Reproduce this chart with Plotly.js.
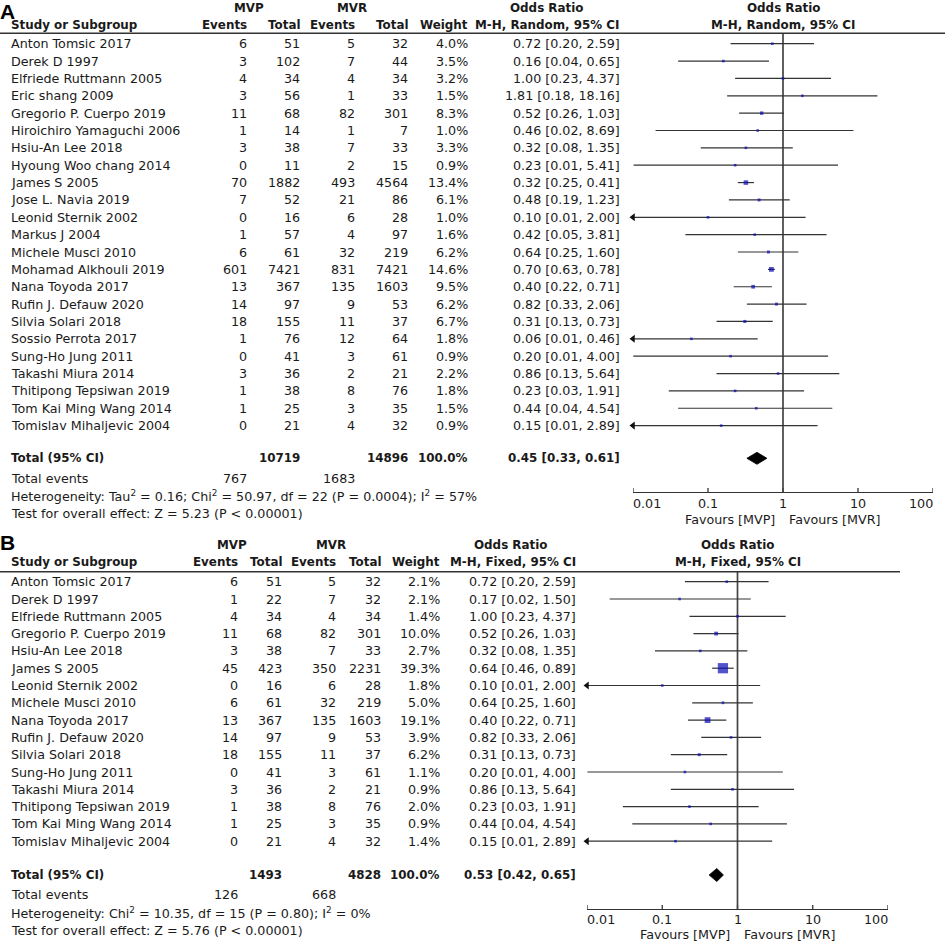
<!DOCTYPE html>
<html><head><meta charset="utf-8">
<script src="https://cdn.plot.ly/plotly-3.0.1.min.js"></script>
<style>html,body{margin:0;padding:0;background:#fff;}#chart{width:945px;height:942px;}</style>
</head><body><div id="chart"></div>
<script>
// ================= DATA: Panel A (M-H, Random) =================
const studiesA = ['Anton Tomsic 2017','Derek D 1997','Elfriede Ruttmann 2005','Eric shang 2009','Gregorio P. Cuerpo 2019','Hiroichiro Yamaguchi 2006','Hsiu-An Lee 2018','Hyoung Woo chang 2014','James S 2005','Jose L. Navia 2019','Leonid Sternik 2002','Markus J 2004','Michele Musci 2010','Mohamad Alkhouli 2019','Nana Toyoda 2017','Rufin J. Defauw 2020','Silvia Solari 2018','Sossio Perrota 2017','Sung-Ho Jung 2011','Takashi Miura 2014','Thitipong Tepsiwan 2019','Tom Kai Ming Wang 2014','Tomislav Mihaljevic 2004'];
const mvpEventsA = [6,3,4,3,11,1,3,0,70,7,0,1,6,601,13,14,18,1,0,3,1,1,0];
const mvpTotalA  = [51,102,34,56,68,14,38,11,1882,52,16,57,61,7421,367,97,155,76,41,36,38,25,21];
const mvrEventsA = [5,7,4,1,82,1,7,2,493,21,6,4,32,831,135,9,11,12,3,2,8,3,4];
const mvrTotalA  = [32,44,34,33,301,7,33,15,4564,86,28,97,219,7421,1603,53,37,64,61,21,76,35,32];
const weightA    = [4.0,3.5,3.2,1.5,8.3,1.0,3.3,0.9,13.4,6.1,1.0,1.6,6.2,14.6,9.5,6.2,6.7,1.8,0.9,2.2,1.8,1.5,0.9];
const orA        = [0.72,0.16,1.00,1.81,0.52,0.46,0.32,0.23,0.32,0.48,0.10,0.42,0.64,0.70,0.40,0.82,0.31,0.06,0.20,0.86,0.23,0.44,0.15];
const ciLowA     = [0.20,0.04,0.23,0.18,0.26,0.02,0.08,0.0102,0.25,0.19,0.0055,0.05,0.25,0.63,0.22,0.33,0.13,0.0073,0.0101,0.13,0.03,0.04,0.0075];
const ciHighA    = [2.59,0.65,4.37,18.16,1.03,8.69,1.35,5.41,0.41,1.23,2.00,3.81,1.60,0.78,0.71,2.06,0.73,0.46,4.00,5.64,1.91,4.54,2.89];
const totalNA      = [10719, 14896];
const totalEventsA = [767, 1683];
const pooledA      = [0.45, 0.33, 0.61];
const hetA  = 'Heterogeneity: Tau<sup>2</sup> = 0.16; Chi<sup>2</sup> = 50.97, df = 22 (P = 0.0004); I<sup>2</sup> = 57%';
const testA = 'Test for overall effect: Z = 5.23 (P &lt; 0.00001)';

// ================= DATA: Panel B (M-H, Fixed) =================
const studiesB = ['Anton Tomsic 2017','Derek D 1997','Elfriede Ruttmann 2005','Gregorio P. Cuerpo 2019','Hsiu-An Lee 2018','James S 2005','Leonid Sternik 2002','Michele Musci 2010','Nana Toyoda 2017','Rufin J. Defauw 2020','Silvia Solari 2018','Sung-Ho Jung 2011','Takashi Miura 2014','Thitipong Tepsiwan 2019','Tom Kai Ming Wang 2014','Tomislav Mihaljevic 2004'];
const mvpEventsB = [6,1,4,11,3,45,0,6,13,14,18,0,3,1,1,0];
const mvpTotalB  = [51,22,34,68,38,423,16,61,367,97,155,41,36,38,25,21];
const mvrEventsB = [5,7,4,82,7,350,6,32,135,9,11,3,2,8,3,4];
const mvrTotalB  = [32,32,34,301,33,2231,28,219,1603,53,37,61,21,76,35,32];
const weightB    = [2.1,2.1,1.4,10.0,2.7,39.3,1.8,5.0,19.1,3.9,6.2,1.1,0.9,2.0,0.9,1.4];
const orB        = [0.72,0.17,1.00,0.52,0.32,0.64,0.10,0.64,0.40,0.82,0.31,0.20,0.86,0.23,0.44,0.15];
const ciLowB     = [0.20,0.02,0.23,0.26,0.08,0.46,0.0055,0.25,0.22,0.33,0.13,0.0101,0.13,0.03,0.04,0.0075];
const ciHighB    = [2.59,1.50,4.37,1.03,1.35,0.89,2.00,1.60,0.71,2.06,0.73,4.00,5.64,1.91,4.54,2.89];
const totalNB      = [1493, 4828];
const totalEventsB = [126, 668];
const pooledB      = [0.53, 0.42, 0.65];
const hetB  = 'Heterogeneity: Chi<sup>2</sup> = 10.35, df = 15 (P = 0.80); I<sup>2</sup> = 0%';
const testB = 'Test for overall effect: Z = 5.76 (P &lt; 0.00001)';

// ================= Labels =================
const tickVals = [0.01, 0.1, 1, 10, 100];
const tickText = ['0.01', '0.1', '1', '10', '100'];
const nullEffect = 1;
const groupLabels = ['MVP', 'MVR'];
const colLabels = ['Study or Subgroup', 'Events', 'Total', 'Events', 'Total', 'Weight'];
const favoursLabels = ['Favours [MVP]', 'Favours [MVR]'];

// ================= Layout helpers =================
const W = 945, H = 942;
const px = x => x / W;
const py = y => 1 - y / H;
const FONT = 'DejaVu Sans, Lucida Grande, sans-serif';
const FS = 12.7;      // regular text
const FSB = 11.9;     // bold header text
const TXT = '#1a1a1a';
const BLUE = '#0c0cb4';
const LINE = '#333333';
const AXMIN = tickVals[0];

const panels = [
  { letter:'A', letterY:12, xa:'x', ya:'y', method:'M-H, Random, 95% CI',
    studies:studiesA, e1:mvpEventsA, n1:mvpTotalA, e2:mvrEventsA, n2:mvrTotalA, w:weightA, or:orA, lo:ciLowA, hi:ciHighA,
    totN:totalNA, totE:totalEventsA, pooled:pooledA, het:hetA, test:testA,
    nameX:11, colR:[247,300,355,408,468,620], groupC:[249,352], orHdrC:546,
    dom:[633,933], axisY:492, topY:0, rowTop:43.7, step:17.36, hdrLineY:33.3, hdrRight:945,
    hdr1Y:8, hdr2Y:25, totalY:458.3, evY:478.3, hetY:496, testY:513.3, tickLblY:503.5, favY:519, dh:6 },
  { letter:'B', letterY:542, xa:'x2', ya:'y2', method:'M-H, Fixed, 95% CI',
    studies:studiesB, e1:mvpEventsB, n1:mvpTotalB, e2:mvrEventsB, n2:mvrTotalB, w:weightB, or:orB, lo:ciLowB, hi:ciHighB,
    totN:totalNB, totE:totalEventsB, pooled:pooledB, het:hetB, test:testB,
    nameX:11, colR:[238,282,336,381,440,576], groupC:[232,331], orHdrC:510,
    dom:[587,888], axisY:909, topY:528, rowTop:581.7, step:17.3, hdrLineY:571.7, hdrRight:900,
    hdr1Y:545, hdr2Y:562, totalY:875, evY:894.3, hetY:912.7, testY:930, tickLblY:919.5, favY:934, dh:6.5 }
];

const traces = [];
const annotations = [];
const shapes = [];
const layout = {
  width: W, height: H, margin: {l:0, r:0, t:0, b:0},
  paper_bgcolor: '#ffffff', plot_bgcolor: 'rgba(0,0,0,0)',
  showlegend: false, hovermode: false,
  font: {family: FONT, size: FS, color: TXT},
  annotations, shapes
};

function ann(x, y, text, anchor, extra) {
  return Object.assign({xref:'paper', yref:'paper', x:px(x), y:py(y), text:text, showarrow:false,
    xanchor:anchor || 'left', yanchor:'middle', borderpad:0, borderwidth:0,
    font:{family:FONT, size:FS, color:TXT}}, extra || {});
}
const bold = {font:{family:FONT, size:FSB, color:TXT}};
const fmt2 = v => v.toFixed(2);
const ciText = (o, l, h) => fmt2(o) + ' [' + fmt2(l) + ', ' + fmt2(h) + ']';

panels.forEach((p, pi) => {
  const row = pix => (pix - p.rowTop) / p.step;  // pixel -> row units
  const xName = pi === 0 ? 'xaxis' : 'xaxis2';
  const yName = pi === 0 ? 'yaxis' : 'yaxis2';
  layout[xName] = {
    type:'log', domain:[px(p.dom[0]), px(p.dom[1])],
    range:[Math.log10(tickVals[0]), Math.log10(tickVals[tickVals.length-1])],
    anchor:p.ya, tickmode:'array', tickvals:tickVals, ticktext:tickText,
    ticks:'', showticklabels:false,
    showline:true, linecolor:LINE, linewidth:1.3, showgrid:false, zeroline:false, fixedrange:true
  };
  layout[yName] = {
    domain:[py(p.axisY), py(p.topY)], range:[row(p.axisY), row(p.topY)],
    anchor:p.xa, visible:false, showgrid:false, zeroline:false, fixedrange:true
  };

  const idx = p.studies.map((_, i) => i);

  // axis tick marks crossing the axis line
  const tx = [], ty = [];
  tickVals.forEach(v => { tx.push(v, v, null); ty.push(row(p.axisY - 4), row(p.axisY + 4), null); });
  traces.push({type:'scatter', mode:'lines', xaxis:p.xa, yaxis:p.ya, x:tx, y:ty, cliponaxis:false,
    line:{color:LINE, width:1.3}, hoverinfo:'skip'});
  // tick labels (end labels aligned inward, as in the reference)
  const last = tickVals.length - 1;
  tickVals.forEach((v, k) => annotations.push(ann(0, p.tickLblY, tickText[k],
    k === 0 ? 'left' : (k === last ? 'right' : 'center'),
    {xref:p.xa, x:Math.log10(v)})));

  // null-effect vertical line
  traces.push({type:'scatter', mode:'lines', xaxis:p.xa, yaxis:p.ya,
    x:[nullEffect, nullEffect], y:[row(p.hdrLineY), row(p.axisY)],
    line:{color:'#444444', width:1.7}, hoverinfo:'skip', cliponaxis:false});

  // CI lines
  const sx = [], sy = [];
  idx.forEach(i => { sx.push(Math.max(p.lo[i], AXMIN), p.hi[i], null); sy.push(i, i, null); });
  traces.push({type:'scatter', mode:'lines', xaxis:p.xa, yaxis:p.ya, x:sx, y:sy,
    line:{color:LINE, width:1.2}, hoverinfo:'skip', connectgaps:false});

  // arrows for CIs beyond the axis
  const ax = [], ay = [];
  idx.forEach(i => { if (p.lo[i] < AXMIN) { ax.push(AXMIN); ay.push(i); } });
  traces.push({type:'scatter', mode:'markers', xaxis:p.xa, yaxis:p.ya, x:ax, y:ay, cliponaxis:false,
    marker:{symbol:'triangle-left', size:7, color:'#111111', line:{width:0}}, hoverinfo:'skip'});

  // weighted squares
  traces.push({type:'scatter', mode:'markers', xaxis:p.xa, yaxis:p.ya, x:p.or, y:idx, cliponaxis:false,
    marker:{symbol:'square', size:p.w.map(w => Math.max(2.6, 1.6 + 0.22 * w)), color:BLUE, line:{width:0}},
    hoverinfo:'skip'});

  // pooled diamond
  const tr = row(p.totalY), h = p.dh / p.step;
  traces.push({type:'scatter', mode:'lines', xaxis:p.xa, yaxis:p.ya, fill:'toself',
    x:[p.pooled[1], p.pooled[0], p.pooled[2], p.pooled[0], p.pooled[1]],
    y:[tr, tr - h, tr, tr + h, tr], fillcolor:'#000000', line:{color:'#000000', width:0.8},
    hoverinfo:'skip', cliponaxis:false});

  // --- header texts ---
  annotations.push(ann(0, p.letterY, '<b>' + p.letter + '</b>', 'left',
    {font:{family:'Liberation Sans, Arial, sans-serif', size:21, color:'#000'}}));
  annotations.push(ann(p.groupC[0], p.hdr1Y, '<b>' + groupLabels[0] + '</b>', 'center', bold));
  annotations.push(ann(p.groupC[1], p.hdr1Y, '<b>' + groupLabels[1] + '</b>', 'center', bold));
  annotations.push(ann(p.orHdrC, p.hdr1Y, '<b>Odds Ratio</b>', 'center', bold));
  annotations.push(ann(p.nameX, p.hdr2Y, '<b>' + colLabels[0] + '</b>', 'left', bold));
  for (let c = 1; c < colLabels.length; c++) {
    annotations.push(ann(p.colR[c-1], p.hdr2Y, '<b>' + colLabels[c] + '</b>', 'right', bold));
  }
  annotations.push(ann(p.colR[5], p.hdr2Y, '<b>' + p.method + '</b>', 'right', bold));
  const fc = (p.dom[0] + p.dom[1]) / 2;
  annotations.push(ann(fc, p.hdr1Y, '<b>Odds Ratio</b>', 'center', bold));
  annotations.push(ann(fc, p.hdr2Y, '<b>' + p.method + '</b>', 'center', bold));

  // header rule
  shapes.push({type:'line', xref:'paper', yref:'paper', x0:0, x1:px(p.hdrRight), y0:py(p.hdrLineY), y1:py(p.hdrLineY),
    line:{color:LINE, width:1.5}});

  // --- study rows ---
  idx.forEach(i => {
    const base = {yref:p.ya, y:i};
    annotations.push(ann(p.nameX, 0, p.studies[i], 'left', base));
    const vals = [p.e1[i], p.n1[i], p.e2[i], p.n2[i], p.w[i].toFixed(1) + '%', ciText(p.or[i], p.lo[i], p.hi[i])];
    vals.forEach((v, c) => annotations.push(ann(p.colR[c], 0, String(v), 'right', base)));
  });

  // --- totals ---
  annotations.push(ann(p.nameX, p.totalY, '<b>Total (95% CI)</b>', 'left', bold));
  annotations.push(ann(p.colR[1], p.totalY, '<b>' + p.totN[0] + '</b>', 'right', bold));
  annotations.push(ann(p.colR[3], p.totalY, '<b>' + p.totN[1] + '</b>', 'right', bold));
  annotations.push(ann(p.colR[4], p.totalY, '<b>100.0%</b>', 'right', bold));
  annotations.push(ann(p.colR[5], p.totalY, '<b>' + ciText(p.pooled[0], p.pooled[1], p.pooled[2]) + '</b>', 'right', bold));
  annotations.push(ann(p.nameX, p.evY, 'Total events', 'left'));
  annotations.push(ann(p.colR[0], p.evY, String(p.totE[0]), 'right'));
  annotations.push(ann(p.colR[2], p.evY, String(p.totE[1]), 'right'));
  annotations.push(ann(p.nameX, p.hetY, p.het, 'left'));
  annotations.push(ann(p.nameX, p.testY, p.test, 'left'));

  // favours labels
  annotations.push(ann(0, p.favY, favoursLabels[0], 'right', {xref:p.xa, x:Math.log10(nullEffect), xshift:-8}));
  annotations.push(ann(0, p.favY, favoursLabels[1], 'left', {xref:p.xa, x:Math.log10(nullEffect), xshift:6}));
});

Plotly.newPlot('chart', traces, layout, {staticPlot:true, displayModeBar:false});
</script>
</body></html>
